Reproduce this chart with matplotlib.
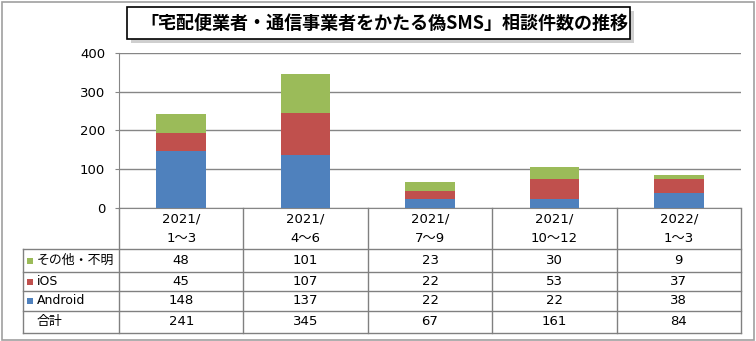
import matplotlib
matplotlib.use("Agg")
import matplotlib.pyplot as plt
from matplotlib.patches import Rectangle
from matplotlib.lines import Line2D

plt.rcParams['font.family'] = ['Noto Sans CJK JP', 'DejaVu Sans']

title = "「宅配便業者・通信事業者をかたる偽SMS」相談件数の推移"
categories = ["2021/\n1～3", "2021/\n4～6", "2021/\n7～9", "2021/\n10～12", "2022/\n1～3"]
series_names = ["その他・不明", "iOS", "Android"]
android = [148, 137, 22, 22, 38]
ios = [45, 107, 22, 53, 37]
other = [48, 101, 23, 30, 9]
totals = [241, 345, 67, 161, 84]
total_label = "合計"
yticks = [0, 100, 200, 300, 400]

colors = {"Android": "#4F81BD", "iOS": "#C0504D", "その他・不明": "#9BBB59"}
W, H = 756, 341
fig = plt.figure(figsize=(W / 100, H / 100), dpi=100)

LAT = ['DejaVu Sans', 'Noto Sans CJK JP']
CJK = ['Noto Sans CJK JP', 'DejaVu Sans']


def fx(x):
    return x / W


def fy(y):
    return 1 - y / H


gray = "#868686"

# outer border
fig.add_artist(Rectangle((fx(1.5), fy(339.5)), fx(752), (338) / H, transform=fig.transFigure,
                         fill=False, edgecolor="#A0A0A0", lw=1.2))

# plot area
x0, x1, ytop, ybot = 119, 741, 52.7, 208
ax = fig.add_axes([fx(x0), fy(ybot), fx(x1 - x0), (ybot - ytop) / H])
n = len(categories)
pos = list(range(n))
ax.bar(pos, android, width=0.4, color=colors["Android"], zorder=3)
b2 = [a for a in android]
ax.bar(pos, ios, width=0.4, bottom=b2, color=colors["iOS"], zorder=3)
b3 = [a + i for a, i in zip(android, ios)]
ax.bar(pos, other, width=0.4, bottom=b3, color=colors["その他・不明"], zorder=3)
ax.set_xlim(-0.5, n - 0.5)
ax.set_ylim(0, 400)
ax.set_yticks(yticks)
ax.set_yticklabels([str(v) for v in yticks], fontsize=9.5, family=LAT)
ax.set_xticks([])
ax.grid(axis='y', color=gray, lw=1, zorder=0)
for s in ["top", "right"]:
    ax.spines[s].set_visible(False)
ax.spines["left"].set_color(gray)
ax.spines["bottom"].set_color(gray)
ax.tick_params(axis='y', length=3, color=gray, pad=7)

# table
colw = (x1 - x0) / n
tl = 23
row_edges = [249, 272, 291, 310.5, 333]
lc = "#808080"


def hline(xa, xb, y):
    fig.add_artist(Line2D([fx(xa), fx(xb)], [fy(y), fy(y)], transform=fig.transFigure, color=lc, lw=1))


def vline(x, ya, yb):
    fig.add_artist(Line2D([fx(x), fx(x)], [fy(ya), fy(yb)], transform=fig.transFigure, color=lc, lw=1))


for y in row_edges:
    hline(tl, x1, y)
vline(tl, row_edges[0], row_edges[-1])
vline(x0, ybot, row_edges[-1])
for i in range(1, n + 1):
    vline(x0 + i * colw, ybot, row_edges[-1])

# header labels
for i, c in enumerate(categories):
    cx = x0 + (i + 0.5) * colw
    l1, l2 = c.split("\n")
    fig.text(fx(cx), fy(219), l1, ha="center", va="center", fontsize=9.5, family=LAT)
    fig.text(fx(cx), fy(238), l2, ha="center", va="center", fontsize=9.5, family=LAT)

rows = [("その他・不明", other), ("iOS", ios), ("Android", android), (total_label, totals)]
for r, (name, vals) in enumerate(rows):
    cy = (row_edges[r] + row_edges[r + 1]) / 2
    if name in colors:
        fig.add_artist(Rectangle((fx(27), fy(cy + 3)), 5.5 / W, 5.5 / H, transform=fig.transFigure,
                                 facecolor=colors[name], edgecolor="none"))
    is_cjk = any(ord(ch) > 0x2000 for ch in name)
    fig.text(fx(36.5), fy(cy), name, ha="left", va="center",
             fontsize=9.3 if is_cjk else 9, family=CJK if is_cjk else LAT)
    for i, v in enumerate(vals):
        cx = x0 + (i + 0.5) * colw
        fig.text(fx(cx), fy(cy), str(v), ha="center", va="center", fontsize=9.5, family=LAT)

# title box with shadow
bx0, bx1, by0, by1 = 127, 630, 7.5, 39
fig.add_artist(Rectangle((fx(bx0 + 4), fy(by1 + 4)), (bx1 - bx0) / W, (by1 - by0) / H,
                         transform=fig.transFigure, facecolor="#B0B0B0", edgecolor="none", alpha=0.6))
fig.add_artist(Rectangle((fx(bx0), fy(by1)), (bx1 - bx0) / W, (by1 - by0) / H,
                         transform=fig.transFigure, facecolor="white", edgecolor="black", lw=1.2))
fig.text(fx((bx0 + bx1) / 2 + 6), fy((by0 + by1) / 2), title, ha="center", va="center",
         fontsize=13, fontweight="bold")

fig.savefig("out.png", dpi=100)
